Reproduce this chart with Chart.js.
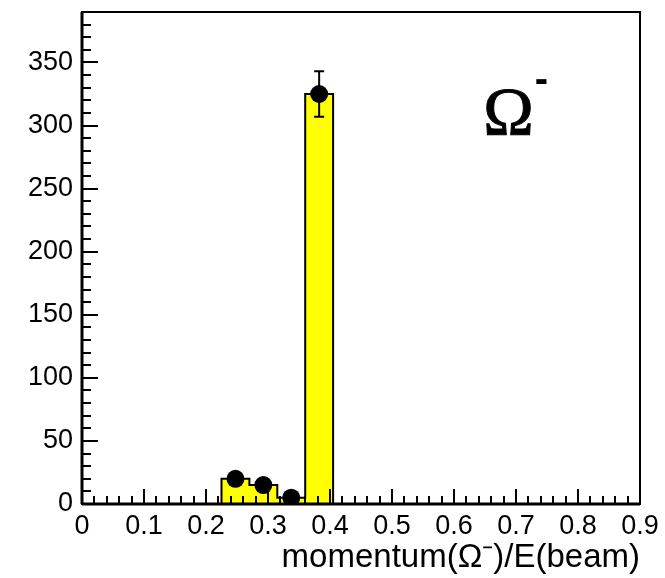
<!DOCTYPE html>
<html><head><meta charset="utf-8">
<script src="https://cdn.jsdelivr.net/npm/chart.js@4"></script>
<style>html,body{margin:0;padding:0;background:#fff}</style>
</head><body>
<canvas id="c" width="665" height="578"></canvas>
<script>
// ---- data ----
const binLow = 0;
const binHigh = 0.9;
const counts = [0, 0, 0, 0, 0, 20, 15, 5, 325, 0, 0, 0, 0, 0, 0, 0, 0, 0, 0, 0];
const xTickValues = [0, 0.1, 0.2, 0.3, 0.4, 0.5, 0.6, 0.7, 0.8, 0.9];
const xTickLabels = ['0', '0.1', '0.2', '0.3', '0.4', '0.5', '0.6', '0.7', '0.8', '0.9'];
const yTickValues = [0, 50, 100, 150, 200, 250, 300, 350];
const yTickLabels = ['0', '50', '100', '150', '200', '250', '300', '350'];
const yMax = 390;
const xMinorStep = 0.02;
const yMinorStep = 10;
const xAxisTitle = 'momentum(Ω⁻)/E(beam)';
const particleLabel = 'Ω';
const particleCharge = '-';
const particleLabelPos = { x: 0.688, y: 293 };

// ---- derived tables ----
const nBins = counts.length;
const binWidth = (binHigh - binLow) / nBins;
const outline = counts.map((c, i) => ({ x: binLow + i * binWidth, y: c }));
outline.push({ x: binHigh, y: counts[nBins - 1] });
const markers = [];
counts.forEach((c, i) => { if (c > 0) markers.push({ x: binLow + (i + 0.5) * binWidth, y: c, err: Math.sqrt(c) }); });

const SANS = '"Liberation Sans", Arial, Helvetica, sans-serif';

const histPlugin = {
  id: 'histDecor',
  afterDatasetsDraw(chart) {
    const ctx = chart.ctx;
    const xs = chart.scales.x, ys = chart.scales.y;
    ctx.save();
    ctx.strokeStyle = '#000';
    ctx.lineWidth = 2;
    markers.forEach(m => {
      const px = xs.getPixelForValue(m.x);
      const y1 = ys.getPixelForValue(m.y - m.err);
      const y2 = ys.getPixelForValue(m.y + m.err);
      ctx.beginPath();
      ctx.moveTo(px, y1); ctx.lineTo(px, y2);
      ctx.moveTo(px - 5, y1); ctx.lineTo(px + 5, y1);
      ctx.moveTo(px - 5, y2); ctx.lineTo(px + 5, y2);
      ctx.stroke();
    });
    ctx.restore();
  },
  afterDraw(chart) {
    const ctx = chart.ctx;
    const a = chart.chartArea;
    const xs = chart.scales.x, ys = chart.scales.y;
    ctx.save();
    ctx.strokeStyle = '#000';
    ctx.lineWidth = 2;
    ctx.beginPath();
    const nx = Math.round((binHigh - binLow) / xMinorStep);
    for (let i = 0; i <= nx; i++) {
      const v = binLow + i * xMinorStep;
      const major = i % 5 === 0;
      const px = Math.round(xs.getPixelForValue(v));
      ctx.moveTo(px, a.bottom);
      ctx.lineTo(px, a.bottom - (major ? 15 : 8));
    }
    for (let v = 0; v < yMax - 0.5; v += yMinorStep) {
      const major = v % 50 === 0;
      const py = Math.round(ys.getPixelForValue(v));
      ctx.moveTo(a.left, py);
      ctx.lineTo(a.left + (major ? 16 : 9), py);
    }
    ctx.stroke();
    ctx.lineWidth = 2;
    ctx.strokeRect(a.left, a.top, a.right - a.left, a.bottom - a.top);
    ctx.lineWidth = 3;
    ctx.beginPath();
    ctx.moveTo(a.left, a.bottom); ctx.lineTo(a.right, a.bottom);
    ctx.moveTo(a.left, a.top); ctx.lineTo(a.left, a.bottom);
    ctx.stroke();
    const lx = xs.getPixelForValue(particleLabelPos.x);
    const ly = ys.getPixelForValue(particleLabelPos.y);
    ctx.fillStyle = '#000';
    ctx.textBaseline = 'alphabetic';
    ctx.textAlign = 'center';
    ctx.font = '68px "Liberation Serif", "Times New Roman", serif';
    ctx.fillText(particleLabel, lx, ly);
    ctx.strokeStyle = '#000';
    ctx.lineWidth = 1;
    ctx.strokeText(particleLabel, lx, ly);
    const w = ctx.measureText(particleLabel).width;
    ctx.textAlign = 'left';
    ctx.font = 'bold 40px ' + SANS;
    ctx.fillText(particleCharge, lx + w / 2 + 1, ly - 42);
    ctx.restore();
  }
};

new Chart(document.getElementById('c'), {
  type: 'scatter',
  data: {
    datasets: [
      {
        type: 'line',
        data: outline,
        stepped: 'before',
        fill: 'origin',
        backgroundColor: '#ffff00',
        borderColor: '#000',
        borderWidth: 2,
        pointRadius: 0,
        order: 2
      },
      {
        type: 'scatter',
        data: markers,
        pointRadius: 9,
        pointBackgroundColor: '#000',
        pointBorderWidth: 0,
        order: 1
      }
    ]
  },
  options: {
    responsive: false,
    animation: false,
    layout: { padding: { top: 12, right: 25, left: 0, bottom: 0 } },
    plugins: { legend: { display: false }, tooltip: { enabled: false } },
    scales: {
      x: {
        type: 'linear',
        min: binLow, max: binHigh,
        grid: { display: false, drawTicks: false },
        border: { display: false },
        afterFit: s => { s.height = 74; s.paddingLeft = 0; s.paddingRight = 0; },
        afterBuildTicks: s => { s.ticks = xTickValues.map(v => ({ value: v })); },
        ticks: {
          autoSkip: false, maxRotation: 0,
          padding: 6,
          color: '#000',
          font: { family: SANS, size: 27 },
          callback: (v, i) => xTickLabels[i]
        },
        title: {
          display: true, text: xAxisTitle, align: 'end',
          color: '#000',
          font: { family: SANS, size: 33 },
          padding: { top: 0, bottom: 0 }
        }
      },
      y: {
        type: 'linear',
        min: 0, max: yMax,
        grid: { display: false, drawTicks: false },
        border: { display: false },
        afterFit: s => { s.width = 82; s.paddingTop = 0; s.paddingBottom = 0; },
        afterBuildTicks: s => { s.ticks = yTickValues.map(v => ({ value: v })); },
        ticks: {
          autoSkip: false,
          padding: 9,
          color: '#000',
          font: { family: SANS, size: 27 },
          callback: (v, i) => yTickLabels[i]
        }
      }
    }
  },
  plugins: [histPlugin]
});
</script>
</body></html>
